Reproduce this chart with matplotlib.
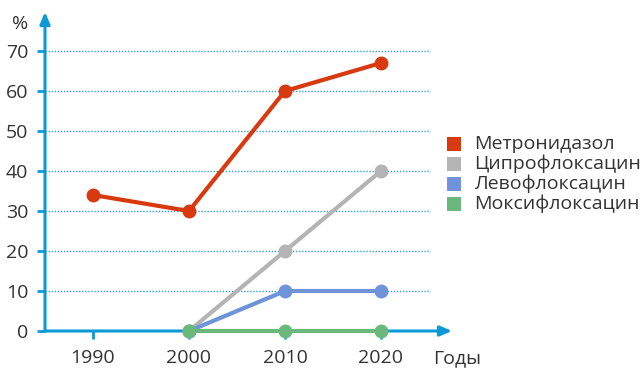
import matplotlib
matplotlib.use("Agg")
import matplotlib.pyplot as plt
from matplotlib.patches import Rectangle

plt.rcParams['font.family'] = ['Open Sans', 'DejaVu Sans']

years_metro = [1990, 2000, 2010, 2020]
metro = [34, 30, 60, 67]
years_other = [2000, 2010, 2020]
cipro = [0, 20, 40]
levo = [0, 10, 10]
moxi = [0, 0, 0]
series_names = ['Метронидазол', 'Ципрофлоксацин', 'Левофлоксацин', 'Моксифлоксацин']
colors = ['#d9390f', '#b4b4b4', '#6f93d8', '#6bb87c']
x_ticks = [1990, 2000, 2010, 2020]
y_ticks = [0, 10, 20, 30, 40, 50, 60, 70]

W, H = 644, 368
fig = plt.figure(figsize=(W / 100, H / 100), dpi=100)
x0, x1, y0, y1 = 45, 452, 331, 12
ax = fig.add_axes([x0 / W, (H - y0) / H, (x1 - x0) / W, (y0 - y1) / H])
ax.set_xlim(1985, 2027.4)
ax.set_ylim(0, 79.75)
axis_col = '#0b9ad8'
grid_col = '#2aa3e0'
text_col = '#333333'
fs = 14

for s in ax.spines.values():
    s.set_visible(False)

# grid lines
for v in y_ticks[1:]:
    ax.plot([1985, 2025.1], [v, v], color=grid_col, lw=1.0, ls=(0, (1.0, 1.2)),
            zorder=1, dash_capstyle='butt')

# axes with arrows
ax.annotate('', xy=(1, 0), xytext=(0, 0), xycoords='axes fraction',
            arrowprops=dict(arrowstyle='-|>,head_length=0.7,head_width=0.3', color=axis_col, lw=2.2,
                            shrinkA=0, shrinkB=0), zorder=2)
ax.annotate('', xy=(0, 1), xytext=(0, 0), xycoords='axes fraction',
            arrowprops=dict(arrowstyle='-|>,head_length=0.7,head_width=0.3', color=axis_col, lw=2.2,
                            shrinkA=0, shrinkB=0), zorder=2)

ax.set_xticks(x_ticks)
ax.set_yticks(y_ticks)
ax.tick_params(axis='y', length=6, width=2, color=axis_col, pad=6, labelsize=fs, labelcolor=text_col)
ax.tick_params(axis='x', length=5.5, width=2, color=axis_col, pad=7.5, labelsize=fs, labelcolor=text_col)

lw, ms = 3, 9
ax.plot(years_metro, metro, color=colors[0], lw=lw, marker='o', ms=ms, zorder=5, clip_on=False)
ax.plot(years_other, cipro, color=colors[1], lw=lw, marker='o', ms=ms, zorder=5, clip_on=False)
ax.plot(years_other, levo, color=colors[2], lw=lw, marker='o', ms=ms, zorder=5, clip_on=False)
ax.plot(years_other, moxi, color=colors[3], lw=lw, marker='o', ms=ms, zorder=6, clip_on=False)

fig.text(20 / W, 1 - 24 / H, '%', fontsize=fs, color=text_col, ha='center', va='center')
fig.text(433 / W, 1 - 358 / H, 'Годы', fontsize=fs, color=text_col, ha='left', va='center')

# legend
for i, (name, c) in enumerate(zip(series_names, colors)):
    cy = 144 + i * 20
    fig.patches.append(Rectangle((447 / W, 1 - (cy + 7) / H), 14 / W, 14 / H,
                                 transform=fig.transFigure, facecolor=c, edgecolor='none'))
    fig.text(474 / W, 1 - cy / H, name, fontsize=fs, color=text_col, ha='left', va='center')

fig.savefig('out.png', dpi=100)
